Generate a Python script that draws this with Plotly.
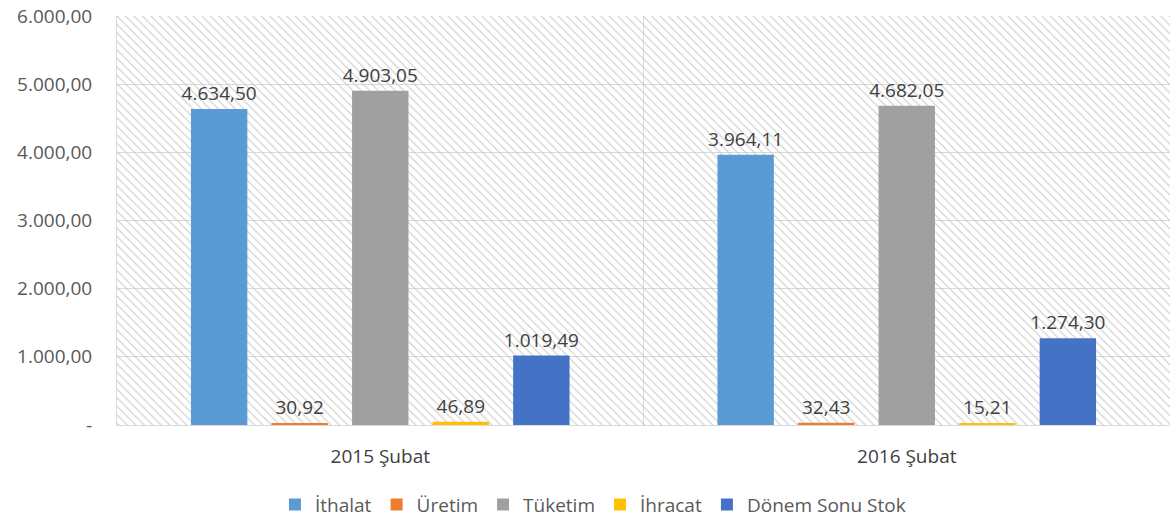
import plotly.graph_objects as go

categories = ["2015 Şubat", "2016 Şubat"]
series_names = ["İthalat", "Üretim", "Tüketim", "İhracat", "Dönem Sonu Stok"]
series_values = {
    "İthalat": [4634.50, 3964.11],
    "Üretim": [30.92, 32.43],
    "Tüketim": [4903.05, 4682.05],
    "İhracat": [46.89, 15.21],
    "Dönem Sonu Stok": [1019.49, 1274.30],
}
colors = ["#5B9BD5", "#ED7D31", "#A0A0A0", "#FFC000", "#4472C4"]
ytick_vals = [0, 1000, 2000, 3000, 4000, 5000, 6000]
ytick_text = ["-", "1.000,00", "2.000,00", "3.000,00", "4.000,00", "5.000,00", "6.000,00"]

FONT = "Open Sans"

fig = go.Figure()

# hatched plot-area background
fig.add_trace(go.Bar(
    x=[0.5], y=[6000], width=[1], xaxis="x", yaxis="y",
    marker=dict(color="rgba(0,0,0,0)", line=dict(width=0),
                pattern=dict(shape="\\", fgcolor="#c8c8c8", bgcolor="rgba(0,0,0,0)",
                             size=6, solidity=0.17, fillmode="replace")),
    showlegend=False, hoverinfo="skip",
))

for name, col in zip(series_names, colors):
    fig.add_trace(go.Bar(
        name=name, x=categories, y=series_values[name], xaxis="x2", yaxis="y2",
        marker=dict(color=col, line=dict(width=0)),
        texttemplate="%{y:,.2f}", textposition="outside", cliponaxis=False,
        constraintext="none",
        textfont=dict(family=FONT, size=19, color="#404040"),
    ))

fig.update_layout(
    width=1170, height=524,
    margin=dict(l=117, r=0, t=16, b=97),
    paper_bgcolor="white", plot_bgcolor="white",
    separators=",.",
    barmode="group", bargap=0.235, bargroupgap=0.30,
    font=dict(family=FONT, color="#595959"),
    xaxis=dict(range=[0, 1], tickvals=[0.5], showticklabels=False, showgrid=True,
               gridcolor="#d9d9d9", gridwidth=1, zeroline=False, automargin=False,
               showline=True, linecolor="#d9d9d9", linewidth=1, fixedrange=True),
    yaxis=dict(range=[0, 6000], tickvals=ytick_vals, ticktext=ytick_text,
               showgrid=True, gridcolor="#d9d9d9", gridwidth=1, zeroline=False,
               showline=True, linecolor="#d9d9d9", linewidth=1, automargin=False,
               tickfont=dict(family=FONT, size=19, color="#595959"),
               ticks="", ticklabelstandoff=20),
    xaxis2=dict(type="category", overlaying="x", anchor="y2", side="bottom",
                range=[-0.5, 1.5], showgrid=False, zeroline=False, showline=False,
                ticks="", ticklabelstandoff=18, automargin=False,
                tickfont=dict(family=FONT, size=19, color="#404040")),
    yaxis2=dict(overlaying="y", range=[0, 6000], visible=False, automargin=False),
    legend=dict(orientation="h", x=0.452, xanchor="center", y=-0.195, yanchor="middle",
                font=dict(family=FONT, size=19, color="#595959"),
                itemwidth=30, traceorder="normal"),
)

fig.write_html("out.html", config={"displayModeBar": False},
               post_script="document.body.style.margin='0';")
